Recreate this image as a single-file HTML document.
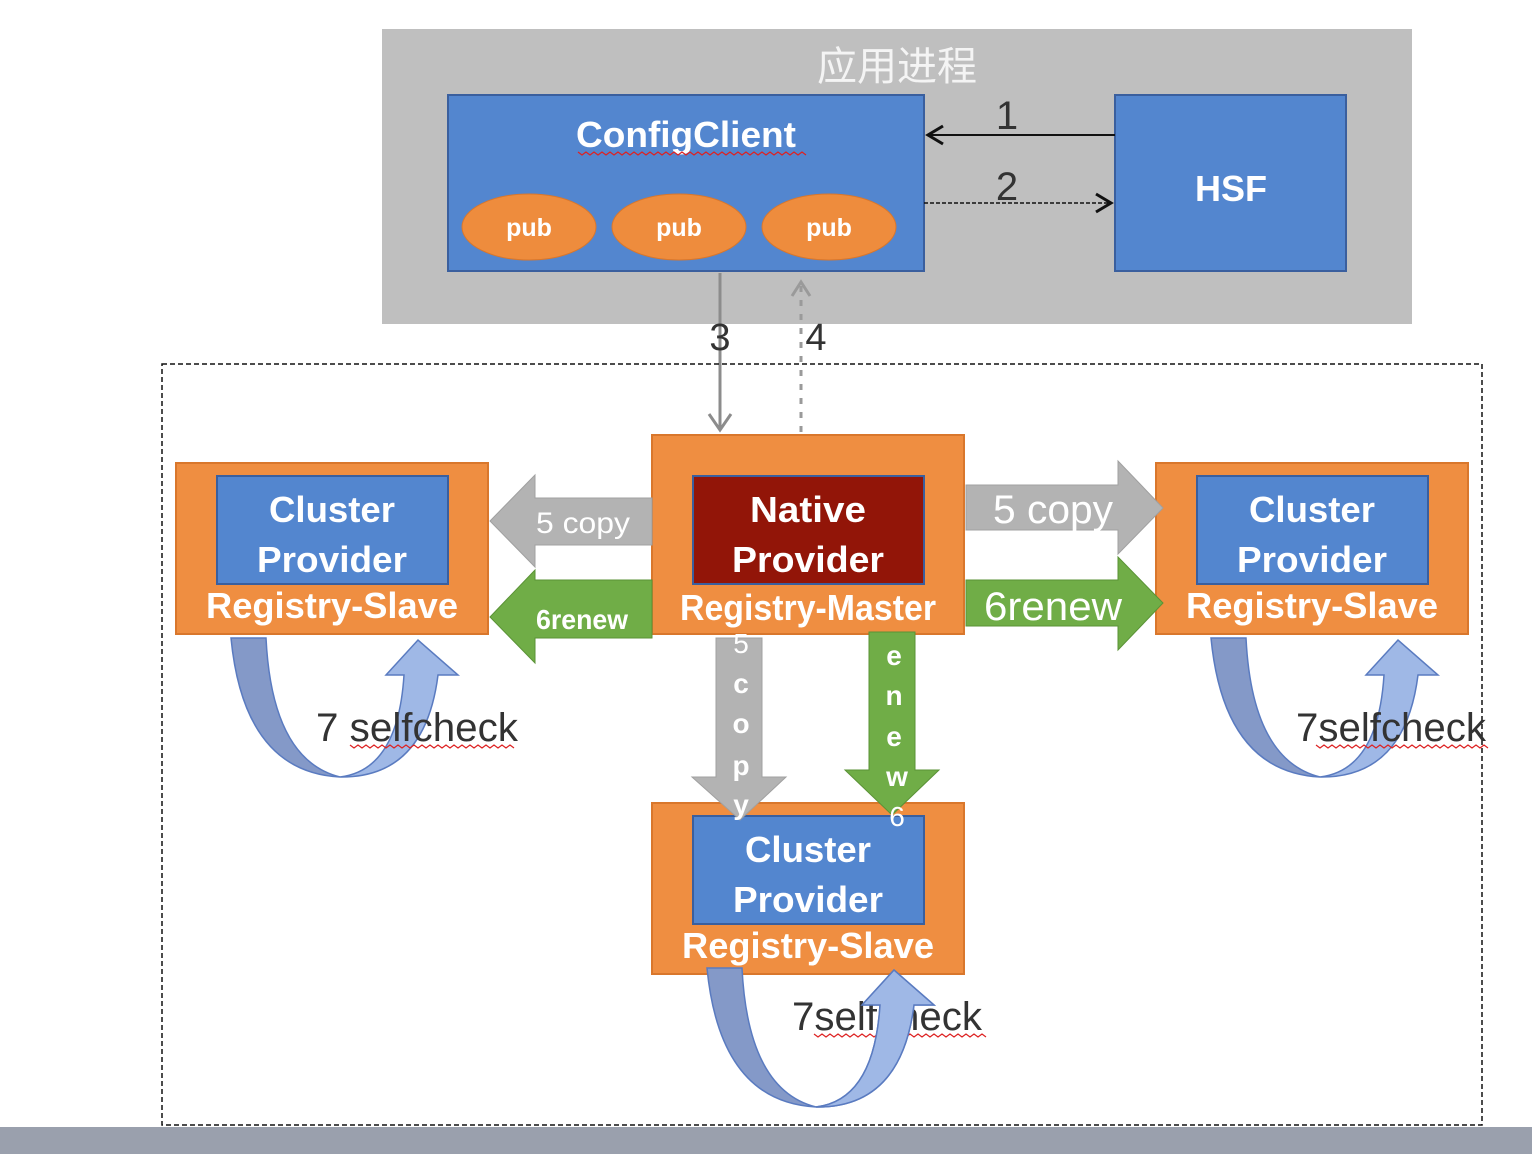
<!DOCTYPE html>
<html><head><meta charset="utf-8"><style>
html,body{margin:0;padding:0;background:#fff;}
svg{display:block;}
text{font-family:"Liberation Sans","Noto Sans CJK SC",sans-serif;}
.w{fill:#fff;font-weight:bold;}
.d{fill:#333;}
</style></head><body>
<svg width="1532" height="1154" viewBox="0 0 1532 1154" xmlns="http://www.w3.org/2000/svg">
<defs>
<g id="self">
<path d="M231,638 L266,638 Q272,760 340,777 Q244,772 231,638 Z" fill="#8499c8" stroke="#5a7bc0" stroke-width="1.5"/>
<path d="M340,777 Q398,770 404,675 L386,675 L418,640 L458,675 L438,675 Q425,778 340,777 Z" fill="#9fb8e6" stroke="#5a7bc0" stroke-width="1.5"/>
</g>
<g id="slave">
<rect x="176" y="463" width="312" height="171" fill="#ef8e41" stroke="#d9772c" stroke-width="2"/>
<rect x="217" y="476" width="231" height="108" fill="#5386cf" stroke="#3a5f9e" stroke-width="2"/>
<text class="w" x="332" y="522" font-size="36" text-anchor="middle" textLength="126" lengthAdjust="spacingAndGlyphs">Cluster</text>
<text class="w" x="332" y="572" font-size="36" text-anchor="middle" textLength="150" lengthAdjust="spacingAndGlyphs">Provider</text>
<text class="w" x="332" y="618" font-size="36" text-anchor="middle" textLength="252" lengthAdjust="spacingAndGlyphs">Registry-Slave</text>
</g>
</defs>

<!-- app process -->
<rect x="382" y="29" width="1030" height="295" fill="#bfbfbf"/>
<text x="897" y="80" font-size="40" text-anchor="middle" fill="#f4f4f4">应用进程</text>
<rect x="448" y="95" width="476" height="176" fill="#5386cf" stroke="#3a5f9e" stroke-width="2"/>
<text class="w" x="686" y="147" font-size="36" text-anchor="middle" textLength="220" lengthAdjust="spacingAndGlyphs">ConfigClient</text>
<path d="M578,152 l4,3 l4,-3 l4,3 l4,-3 l4,3 l4,-3 l4,3 l4,-3 l4,3 l4,-3 l4,3 l4,-3 l4,3 l4,-3 l4,3 l4,-3 l4,3 l4,-3 l4,3 l4,-3 l4,3 l4,-3 l4,3 l4,-3 l4,3 l4,-3 l4,3 l4,-3 l4,3 l4,-3 l4,3 l4,-3 l4,3 l4,-3 l4,3 l4,-3 l4,3 l4,-3 l4,3 l4,-3 l4,3 l4,-3 l4,3 l4,-3 l4,3 l4,-3 l4,3 l4,-3 l4,3 l4,-3 l4,3 l4,-3 l4,3 l4,-3 l4,3 l4,-3 l4,3" fill="none" stroke="#d22" stroke-width="1.2"/>
<ellipse cx="529" cy="227" rx="67" ry="33" fill="#ee8c3d" stroke="#d9772c"/>
<ellipse cx="679" cy="227" rx="67" ry="33" fill="#ee8c3d" stroke="#d9772c"/>
<ellipse cx="829" cy="227" rx="67" ry="33" fill="#ee8c3d" stroke="#d9772c"/>
<text class="w" x="529" y="236" font-size="25" text-anchor="middle">pub</text>
<text class="w" x="679" y="236" font-size="25" text-anchor="middle">pub</text>
<text class="w" x="829" y="236" font-size="25" text-anchor="middle">pub</text>
<rect x="1115" y="95" width="231" height="176" fill="#5386cf" stroke="#3a5f9e" stroke-width="2"/>
<text class="w" x="1231" y="201" font-size="36" text-anchor="middle">HSF</text>

<line x1="1115" y1="135" x2="928" y2="135" stroke="#111" stroke-width="2"/>
<path d="M943,126 L928,135 L943,144" fill="none" stroke="#111" stroke-width="3"/>
<text x="1007" y="129" font-size="40" text-anchor="middle" fill="#333">1</text>
<line x1="924" y1="203" x2="1110" y2="203" stroke="#111" stroke-width="1.5" stroke-dasharray="4,2"/>
<path d="M1096,194 L1111,203 L1096,212" fill="none" stroke="#111" stroke-width="3"/>
<text x="1007" y="200" font-size="40" text-anchor="middle" fill="#333">2</text>

<line x1="720" y1="273" x2="720" y2="430" stroke="#8c8c8c" stroke-width="3"/>
<path d="M709,414 L720,430 L731,414" fill="none" stroke="#8c8c8c" stroke-width="3"/>
<text x="720" y="350" font-size="38" text-anchor="middle" fill="#333">3</text>
<line x1="801" y1="432" x2="801" y2="282" stroke="#9a9a9a" stroke-width="3" stroke-dasharray="6,8"/>
<path d="M792,296 L801,282 L810,296" fill="none" stroke="#9a9a9a" stroke-width="3"/>
<text x="816" y="350" font-size="38" text-anchor="middle" fill="#333">4</text>

<!-- dashed frame -->
<rect x="162" y="364" width="1320" height="761" fill="none" stroke="#111" stroke-width="1.5" stroke-dasharray="5,3"/>
<rect x="0" y="1127" width="1532" height="27" fill="#9aa0ad"/>

<!-- slaves -->
<use href="#slave"/>
<use href="#slave" transform="translate(980,0)"/>
<use href="#slave" transform="translate(476,340)"/>
<use href="#self"/>
<use href="#self" transform="translate(980,0)"/>
<use href="#self" transform="translate(476,330)"/>

<!-- master -->
<rect x="652" y="435" width="312" height="199" fill="#ef8e41" stroke="#d9772c" stroke-width="2"/>
<rect x="693" y="476" width="231" height="108" fill="#921508" stroke="#3a5f9e" stroke-width="2"/>
<text class="w" x="808" y="522" font-size="36" text-anchor="middle" textLength="116" lengthAdjust="spacingAndGlyphs">Native</text>
<text class="w" x="808" y="572" font-size="36" text-anchor="middle" textLength="152" lengthAdjust="spacingAndGlyphs">Provider</text>

<!-- horizontal arrows -->
<polygon points="652,498 535,498 535,475 490,521 535,567 535,545 652,545" fill="#b3b3b3" stroke="#a0a0a0"/>
<text x="583" y="533" font-size="30" fill="#fff" text-anchor="middle" textLength="94" lengthAdjust="spacingAndGlyphs">5 copy</text>
<polygon points="652,580 535,580 535,570 490,617 535,663 535,638 652,638" fill="#70ad47" stroke="#5a9236"/>
<text x="582" y="629" font-size="28" fill="#fff" font-weight="bold" text-anchor="middle" textLength="92" lengthAdjust="spacingAndGlyphs">6renew</text>
<polygon points="966,485 1118,485 1118,461 1163,508 1118,554 1118,530 966,530" fill="#b3b3b3" stroke="#a0a0a0"/>
<text x="1053" y="523" font-size="40" fill="#fff" text-anchor="middle" textLength="120" lengthAdjust="spacingAndGlyphs">5 copy</text>
<polygon points="966,580 1118,580 1118,557 1163,603 1118,650 1118,626 966,626" fill="#70ad47" stroke="#5a9236"/>
<text x="1053" y="620" font-size="40" fill="#fff" text-anchor="middle" textLength="138" lengthAdjust="spacingAndGlyphs">6renew</text>

<!-- vertical arrows -->
<polygon points="716,638 762,638 762,777 786,777 740,820 692,777 716,777" fill="#b3b3b3" stroke="#a0a0a0"/>
<polygon points="869,632 915,632 915,770 939,770 892,815 845,770 869,770" fill="#70ad47" stroke="#5a9236"/>
<g class="w" font-size="28" text-anchor="middle">
<text x="741" y="653" font-weight="normal">5</text>
<text x="741" y="693">c</text>
<text x="741" y="733">o</text>
<text x="741" y="775">p</text>
<text x="741" y="814">y</text>
<text x="894" y="665">e</text>
<text x="894" y="705">n</text>
<text x="894" y="746">e</text>
<text x="897" y="786">w</text>
<text x="897" y="826" font-weight="normal">6</text>
</g>
<text class="w" x="808" y="620" font-size="36" text-anchor="middle" textLength="256" lengthAdjust="spacingAndGlyphs">Registry-Master</text>

<!-- selfcheck labels -->
<text class="d" x="316" y="741" font-size="40" textLength="202" lengthAdjust="spacingAndGlyphs">7 selfcheck</text>
<text class="d" x="1296" y="741" font-size="40" textLength="190" lengthAdjust="spacingAndGlyphs">7selfcheck</text>
<text class="d" x="792" y="1030" font-size="40" textLength="190" lengthAdjust="spacingAndGlyphs">7selfcheck</text>
<g fill="none" stroke="#d22" stroke-width="1.2">
<path d="M350,745 l4,3 l4,-3 l4,3 l4,-3 l4,3 l4,-3 l4,3 l4,-3 l4,3 l4,-3 l4,3 l4,-3 l4,3 l4,-3 l4,3 l4,-3 l4,3 l4,-3 l4,3 l4,-3 l4,3 l4,-3 l4,3 l4,-3 l4,3 l4,-3 l4,3 l4,-3 l4,3 l4,-3 l4,3 l4,-3 l4,3 l4,-3 l4,3 l4,-3 l4,3 l4,-3 l4,3 l4,-3 l4,3"/>
<path d="M1316,745 l4,3 l4,-3 l4,3 l4,-3 l4,3 l4,-3 l4,3 l4,-3 l4,3 l4,-3 l4,3 l4,-3 l4,3 l4,-3 l4,3 l4,-3 l4,3 l4,-3 l4,3 l4,-3 l4,3 l4,-3 l4,3 l4,-3 l4,3 l4,-3 l4,3 l4,-3 l4,3 l4,-3 l4,3 l4,-3 l4,3 l4,-3 l4,3 l4,-3 l4,3 l4,-3 l4,3 l4,-3 l4,3 l4,-3 l4,3"/>
<path d="M814,1034 l4,3 l4,-3 l4,3 l4,-3 l4,3 l4,-3 l4,3 l4,-3 l4,3 l4,-3 l4,3 l4,-3 l4,3 l4,-3 l4,3 l4,-3 l4,3 l4,-3 l4,3 l4,-3 l4,3 l4,-3 l4,3 l4,-3 l4,3 l4,-3 l4,3 l4,-3 l4,3 l4,-3 l4,3 l4,-3 l4,3 l4,-3 l4,3 l4,-3 l4,3 l4,-3 l4,3 l4,-3 l4,3 l4,-3 l4,3"/>
</g>
<!-- bottom arrow overlapping text -->
<path d="M816,1107 Q874,1100 880,1005 L862,1005 L894,970 L934,1005 L914,1005 Q901,1108 816,1107 Z" fill="#9fb8e6" stroke="#5a7bc0" stroke-width="1.5"/>
</svg>
</body></html>
